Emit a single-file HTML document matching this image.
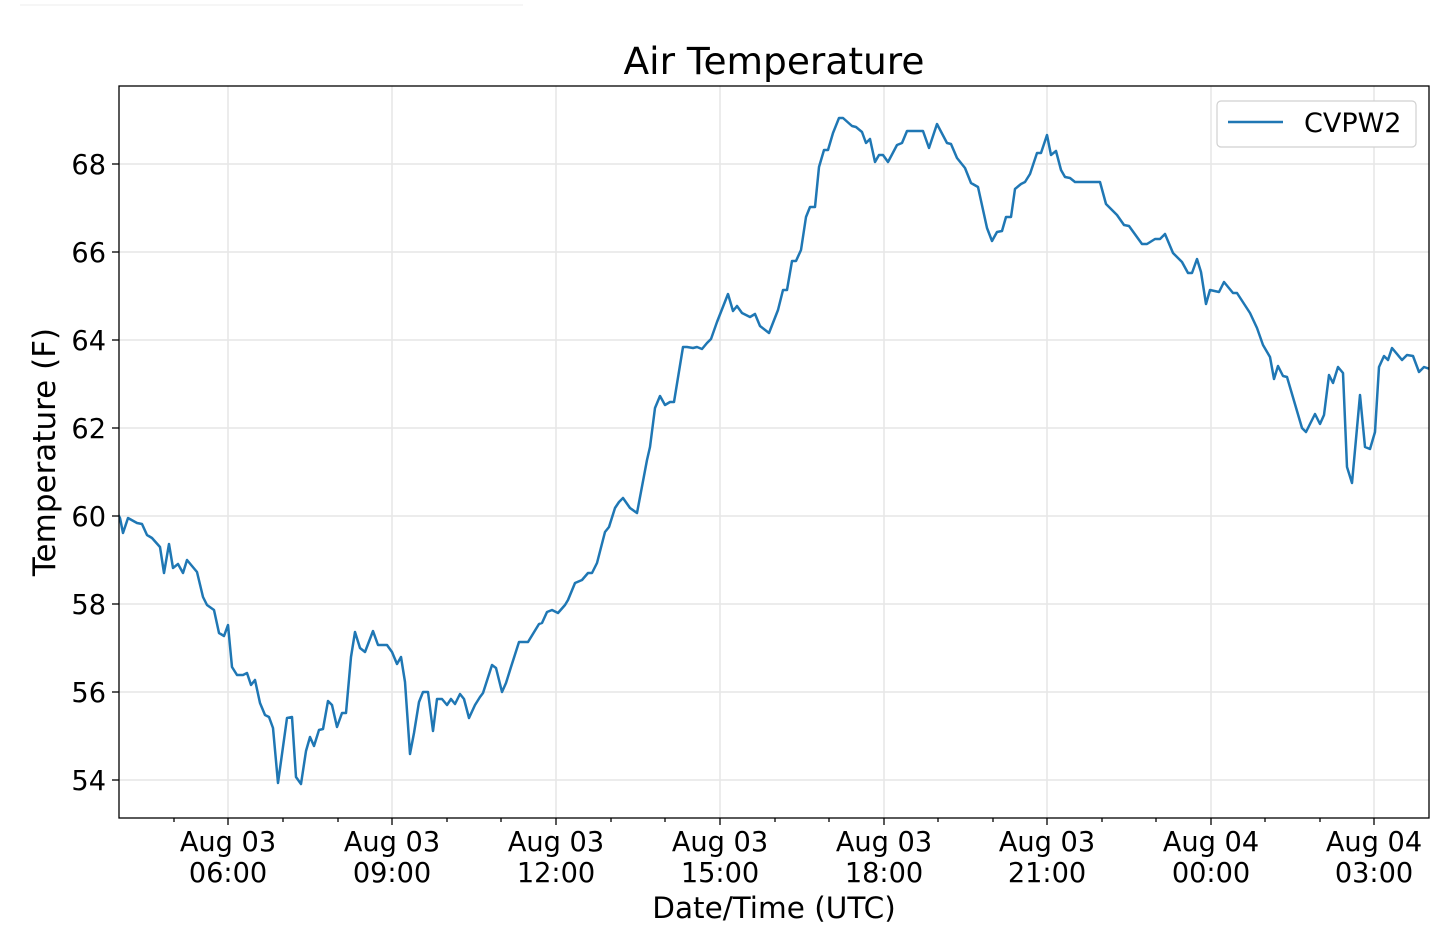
<!DOCTYPE html>
<html><head><meta charset="utf-8"><style>
html,body{margin:0;padding:0;background:#fff;}
svg{display:block;font-family:"DejaVu Sans","Liberation Sans",sans-serif;}
</style></head><body>
<svg width="1439" height="939" viewBox="0 0 1439 939" xmlns="http://www.w3.org/2000/svg">
<line x1="20" y1="5" x2="523" y2="5" stroke="#eee" stroke-width="1"/>
<text x="774" y="74" font-size="37.5" text-anchor="middle" fill="#000">Air Temperature</text>
<g stroke="#e6e6e6" stroke-width="1.5">
<line x1="119" y1="164" x2="1429" y2="164"/><line x1="119" y1="252" x2="1429" y2="252"/>
<line x1="119" y1="340" x2="1429" y2="340"/><line x1="119" y1="428" x2="1429" y2="428"/>
<line x1="119" y1="516" x2="1429" y2="516"/><line x1="119" y1="604" x2="1429" y2="604"/>
<line x1="119" y1="692" x2="1429" y2="692"/><line x1="119" y1="780" x2="1429" y2="780"/>
<line x1="228" y1="86" x2="228" y2="818"/><line x1="392" y1="86" x2="392" y2="818"/>
<line x1="556" y1="86" x2="556" y2="818"/><line x1="720" y1="86" x2="720" y2="818"/>
<line x1="884" y1="86" x2="884" y2="818"/><line x1="1047" y1="86" x2="1047" y2="818"/>
<line x1="1211" y1="86" x2="1211" y2="818"/><line x1="1374" y1="86" x2="1374" y2="818"/>
</g>
<clipPath id="c"><rect x="119" y="86" width="1310" height="732"/></clipPath>
<polyline clip-path="url(#c)" fill="none" stroke="#1f77b4" stroke-width="2.5" stroke-linejoin="round" points="
118,514 120,518 123,533 128,518 137,523 142,524 147,535 152,538 160,547 164,573 169,544 173,568 178,564 183,573 187,560 197,572 203,597 207,605 214,610 219,633 224,636 228,625 232,667 237,675 243,675 247,673 251,685 255,680 260,703 265,715 269,717 273,728 278,783 287,718 292,717 296,777 301,784 306,751 310,737 314,746 319,730 323,729 328,701 332,705 337,727 342,713 346,713 351,657 355,632 360,648 365,652 373,631 378,645 387,645 392,652 397,664 401,657 405,682 410,754 414,733 419,702 423,692 428,692 433,731 437,699 442,699 447,705 451,699 455,704 460,694 464,699 469,718 475,705 480,697 483,693 492,665 496,668 502,692 506,683 511,667 519,642 528,642 539,624 542,623 547,612 552,610 558,613 565,605
568,600 575,583 582,580 588,573 592,573 597,563 605,532 609,527 615,508 619,502 623,498 630,508 637,513 647,460 650,447 655,408 660,396 665,405 670,402 674,402 683,347 687,347 693,348 697,347 702,349 707,343 711,339 717,322 728,294 733,311 737,306 742,313 750,317 755,314 760,326 769,333 778,310 783,290 787,290 792,261 796,261 801,250 806,217 810,207 815,207 819,167 824,150 828,150 833,133 839,118 843,118 852,126 856,127 862,132 866,143 870,139 875,162 879,155 883,155 888,162 897,145 902,143 907,131 923,131 929,148 937,124 947,143 951,144 957,158 965,168 971,183 978,187 987,228 992,241
997,232 1002,231 1006,217 1011,217 1015,189 1021,184 1025,182 1030,174 1037,153 1041,153 1047,135 1051,155 1056,151 1061,170 1065,177 1070,178 1075,182 1100,182 1106,204 1117,215 1124,225 1129,226 1142,244 1147,244 1155,239 1160,239 1165,234 1173,253 1182,262 1188,273 1192,273 1197,259 1201,272 1206,304 1210,290 1219,292 1224,282 1233,293 1237,293 1250,313 1257,328 1263,345 1270,357 1274,379 1278,366 1283,376 1287,377 1302,428 1306,432 1315,414 1320,424 1324,415 1329,375 1333,383 1338,367 1343,373 1347,467 1352,483 1360,395 1365,447 1370,449 1375,432 1379,367 1384,356 1388,360 1392,348 1402,360 1407,355 1413,356 1419,372 1424,367 1430,369"/>
<rect x="119" y="86" width="1310" height="732" fill="none" stroke="#000" stroke-width="1.3"/>
<g stroke="#000" stroke-width="1.3">
<line x1="112" y1="164" x2="119" y2="164"/><line x1="112" y1="252" x2="119" y2="252"/>
<line x1="112" y1="340" x2="119" y2="340"/><line x1="112" y1="428" x2="119" y2="428"/>
<line x1="112" y1="516" x2="119" y2="516"/><line x1="112" y1="604" x2="119" y2="604"/>
<line x1="112" y1="692" x2="119" y2="692"/><line x1="112" y1="780" x2="119" y2="780"/>
<line x1="228" y1="818" x2="228" y2="825"/><line x1="392" y1="818" x2="392" y2="825"/>
<line x1="556" y1="818" x2="556" y2="825"/><line x1="720" y1="818" x2="720" y2="825"/>
<line x1="884" y1="818" x2="884" y2="825"/><line x1="1047" y1="818" x2="1047" y2="825"/>
<line x1="1211" y1="818" x2="1211" y2="825"/><line x1="1374" y1="818" x2="1374" y2="825"/>
<line x1="174" y1="818" x2="174" y2="822"/><line x1="283" y1="818" x2="283" y2="822"/><line x1="338" y1="818" x2="338" y2="822"/>
<line x1="447" y1="818" x2="447" y2="822"/><line x1="501" y1="818" x2="501" y2="822"/><line x1="611" y1="818" x2="611" y2="822"/>
<line x1="665" y1="818" x2="665" y2="822"/><line x1="775" y1="818" x2="775" y2="822"/><line x1="829" y1="818" x2="829" y2="822"/>
<line x1="938" y1="818" x2="938" y2="822"/><line x1="993" y1="818" x2="993" y2="822"/><line x1="1102" y1="818" x2="1102" y2="822"/>
<line x1="1156" y1="818" x2="1156" y2="822"/><line x1="1265" y1="818" x2="1265" y2="822"/><line x1="1320" y1="818" x2="1320" y2="822"/>
</g>
<g font-size="27.2" text-anchor="end" fill="#000">
<text x="106" y="174">68</text><text x="106" y="262">66</text><text x="106" y="350">64</text>
<text x="106" y="438">62</text><text x="106" y="526">60</text><text x="106" y="614">58</text>
<text x="106" y="702">56</text><text x="106" y="790">54</text>
</g>
<g font-size="27.2" text-anchor="middle" fill="#000">
<text x="228" y="851">Aug 03</text><text x="228" y="882">06:00</text>
<text x="392" y="851">Aug 03</text><text x="392" y="882">09:00</text>
<text x="556" y="851">Aug 03</text><text x="556" y="882">12:00</text>
<text x="720" y="851">Aug 03</text><text x="720" y="882">15:00</text>
<text x="884" y="851">Aug 03</text><text x="884" y="882">18:00</text>
<text x="1047" y="851">Aug 03</text><text x="1047" y="882">21:00</text>
<text x="1211" y="851">Aug 04</text><text x="1211" y="882">00:00</text>
<text x="1374" y="851">Aug 04</text><text x="1374" y="882">03:00</text>
</g>
<text x="774" y="918" font-size="29.5" text-anchor="middle" fill="#000">Date/Time (UTC)</text>
<text transform="translate(55,452) rotate(-90)" font-size="31" text-anchor="middle" fill="#000">Temperature (F)</text>
<rect x="1217" y="101" width="199" height="46" rx="4" fill="#fff" stroke="#d0d0d0" stroke-width="1.2"/>
<line x1="1228" y1="122" x2="1283" y2="122" stroke="#1f77b4" stroke-width="2.5"/>
<text x="1304" y="132" font-size="27" fill="#000">CVPW2</text>
</svg>
</body></html>
